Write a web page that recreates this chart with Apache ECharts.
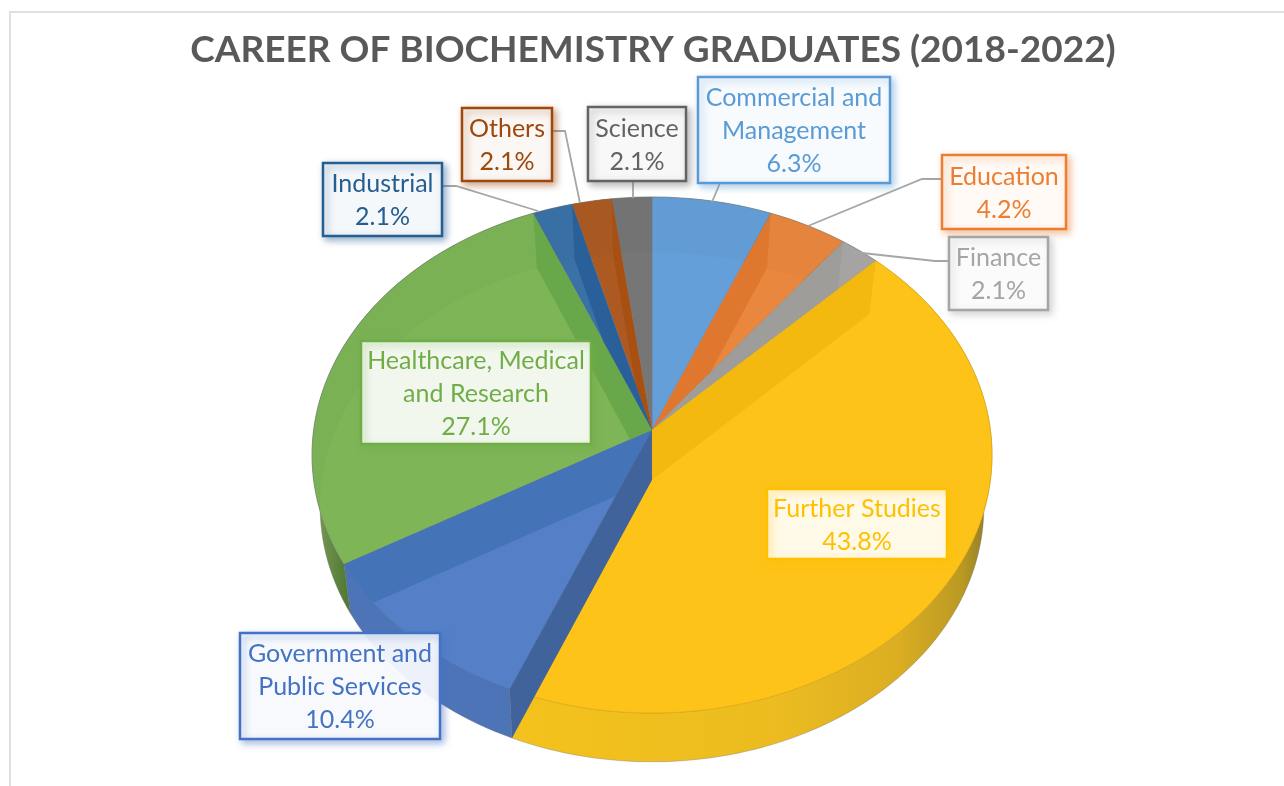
<!DOCTYPE html>
<html>
<head>
<meta charset="utf-8">
<style>html,body{margin:0;padding:0;background:#fff}#c{width:1284px;height:786px}</style>
<script src="https://cdn.jsdelivr.net/npm/echarts@6/dist/echarts.min.js"></script>
</head>
<body>
<div id="c"></div>
<script>
// --- data ---
const titleText = 'CAREER OF BIOCHEMISTRY GRADUATES (2018-2022)';
const categories = ['Commercial and\nManagement','Education','Finance','Further Studies','Government and\nPublic Services','Healthcare, Medical\nand Research','Industrial','Others','Science'];
const graduates = [3,2,1,21,5,13,1,1,1];

// --- styling ---
const textColors = ['#5b9bd5','#ed7d31','#a5a5a5','#ffc000','#4472c4','#70ad47','#255e91','#9e480e','#636363'];
const faceColors = ['#659fd9','#ea873e','#aaa8a6','#fdc318','#5580c8','#7db557','#3a72a8','#ac5a22','#767676'];
const bandColors = ['#5f9ad4','#e0772f','#9f9d9a','#f3b90e','#4474b7','#69a84a','#2a6099','#a84f12','#6f6f6f'];
const wallColors = ['#5a8fc4','#d67a38','#999','#f1c01c','#4e74b8','#4c7a32','#2f6293','#8f4a1a','#666'];
const frontWallColor = '#41639b';
const boxes = [[698,77,192,106],[942,155,124,74],[949,237,99,73],[767,489,180,70],[240,633,200,106],[361,341,230,103],[323,163,119,73],[462,108,90,73],[588,107,98,74]];
const leaders = [
  [[720,183],[712,202]],
  [[942,179],[922,179],[808,226]],
  [[949,261],[935,261],[853,252]],
  null,null,null,
  [[442,186],[456,186],[538,211]],
  [[552,131],[565,131],[580,203]],
  [[633,181],[633,198]]
];
const topDisc = {cx:652, cy:430, R:338.4, Rb:255.6, k:0.0969};
const baseDisc = {cx:652, cy:480, R:330, Rb:252, k:0.1058};

// --- geometry: perspective projection of a disc, angles clockwise from 12 o'clock ---
const total = graduates.reduce((a,b)=>a+b,0);
const edges = [0];
graduates.forEach(v=>edges.push(edges[edges.length-1]+v/total*360));
function proj(d,deg){
  const t=deg*Math.PI/180, x=Math.sin(t), y=-Math.cos(t), w=1-d.k*y;
  return [d.cx+d.R*x/w, d.cy+d.Rb*y/w];
}
function arc(d,a,b){
  const pts=[], n=Math.max(2,Math.ceil(Math.abs(b-a)/1.5));
  for(let i=0;i<=n;i++) pts.push(proj(d,a+(b-a)*i/n));
  return pts;
}
const strip=(a,b)=>arc(topDisc,a,b).concat(arc(baseDisc,a,b).reverse());
const facePoly=i=>[[topDisc.cx,topDisc.cy]].concat(arc(topDisc,edges[i],edges[i+1]));
// Sutherland-Hodgman: clip a polygon by a convex, screen-clockwise polygon
function clipTo(subject,clip){
  let out=subject;
  for(let e=0;e<clip.length;e++){
    const a=clip[e], b=clip[(e+1)%clip.length], input=out; out=[];
    const side=p=>(b[0]-a[0])*(p[1]-a[1])-(b[1]-a[1])*(p[0]-a[0]);
    for(let j=0;j<input.length;j++){
      const p=input[j], q=input[(j+1)%input.length], sp=side(p), sq=side(q);
      if(sp>=0) out.push(p);
      if((sp>=0)!==(sq>=0)){const t=sp/(sp-sq); out.push([p[0]+(q[0]-p[0])*t,p[1]+(q[1]-p[1])*t]);}
    }
    if(!out.length) break;
  }
  return out;
}
const seriesData = graduates.map((v,i)=>[i,v]);

function wallFill(i){
  if(i===3) return {type:'linear',x:515,y:0,x2:990,y2:0,global:true,colorStops:[
    {offset:0,color:'#f3c21c'},{offset:.55,color:'#ecbc20'},{offset:.8,color:'#dcae22'},{offset:.94,color:'#bb9a22'},{offset:1,color:'#8c7a28'}]};
  if(i===5) return {type:'linear',x:315,y:0,x2:352,y2:0,global:true,colorStops:[
    {offset:0,color:'#7a9c55'},{offset:1,color:'#4a7430'}]};
  return wallColors[i];
}

const option = {
  animation:false,
  backgroundColor:'#fff',
  title:{text:titleText,left:648,top:27,textAlign:'center',
    textStyle:{fontFamily:'Lato',fontWeight:'bold',fontSize:37,color:'#595959'}},
  graphic:[{type:'polyline',silent:true,shape:{points:[[10,786],[10,12],[1284,12]]},
    style:{stroke:'#e0e0e0',lineWidth:2,fill:null}}],
  series:[
    { // outer rim walls
      type:'custom',name:'rim',coordinateSystem:'none',z:1,silent:true,data:seriesData,
      renderItem(p,api){
        const i=api.value(0);
        return {type:'polygon',shape:{points:strip(edges[i],edges[i+1])},
          style:{fill:wallFill(i),stroke:'rgba(110,110,110,.45)',lineWidth:.8}};
      }
    },
    { // top faces
      type:'custom',name:'faces',coordinateSystem:'none',z:2,silent:true,data:seriesData,
      renderItem(p,api){
        const i=api.value(0);
        return {type:'polygon',shape:{points:facePoly(i)},
          style:{fill:faceColors[i],stroke:i===3?'#e3ac10':i===4?'#3f6cb4':'rgba(120,120,120,.55)',lineWidth:.8}};
      }
    },
    { // inner walls seen through the translucent top, limited to the slice they belong to
      type:'custom',name:'inner',coordinateSystem:'none',z:3,silent:true,data:seriesData,
      renderItem(p,api){
        const i=api.value(0), children=[];
        if(edges[i+1]<=45.01 || edges[i]>=240-0.01){
          const pts=clipTo(strip(edges[i],edges[i+1]),facePoly(i));
          if(pts.length>2) children.push({type:'polygon',shape:{points:pts},style:{fill:'rgba(0,0,0,.02)'}});
        }
        const b=edges[i+1];
        if(b<359.9){
          const owner = b<225 ? (i+1) : i;
          const isFront = owner===4 && b<225;
          const quad=[[topDisc.cx,topDisc.cy],proj(topDisc,b),proj(baseDisc,b),[baseDisc.cx,baseDisc.cy]];
          const pts=isFront?quad:clipTo(quad,facePoly(owner));
          if(pts.length>2) children.push({type:'polygon',z2:isFront?5:1,shape:{points:pts},
            style:{fill:isFront?frontWallColor:bandColors[owner]}});
        }
        return {type:'group',children};
      }
    },
    { // callouts
      type:'custom',name:'labels',coordinateSystem:'none',z:5,silent:true,data:seriesData,
      renderItem(p,api){
        const i=api.value(0), v=api.value(1), b=boxes[i], children=[];
        if(leaders[i]) children.push({type:'polyline',shape:{points:leaders[i]},
          style:{stroke:'#a6a6a6',lineWidth:1.8,fill:null}});
        children.push({type:'rect',shape:{x:b[0],y:b[1],width:b[2],height:b[3]},
          style:{fill:'rgba(255,255,255,.9)',stroke:textColors[i],lineWidth:2.5,
            shadowBlur:7,shadowOffsetX:3,shadowOffsetY:3,shadowColor:echarts.color.modifyAlpha(textColors[i],.5)}});
        children.push({type:'text',style:{
          text:categories[i]+'\n'+(v/total*100).toFixed(1)+'%',
          x:b[0]+b[2]/2,y:b[1]+b[3]/2+1,align:'center',verticalAlign:'middle',
          fontFamily:'Lato',fontSize:25,lineHeight:33,fill:textColors[i]}});
        return {type:'group',children};
      }
    }
  ]
};
const chart = echarts.init(document.getElementById('c'));
chart.setOption(option);
</script>
</body>
</html>
